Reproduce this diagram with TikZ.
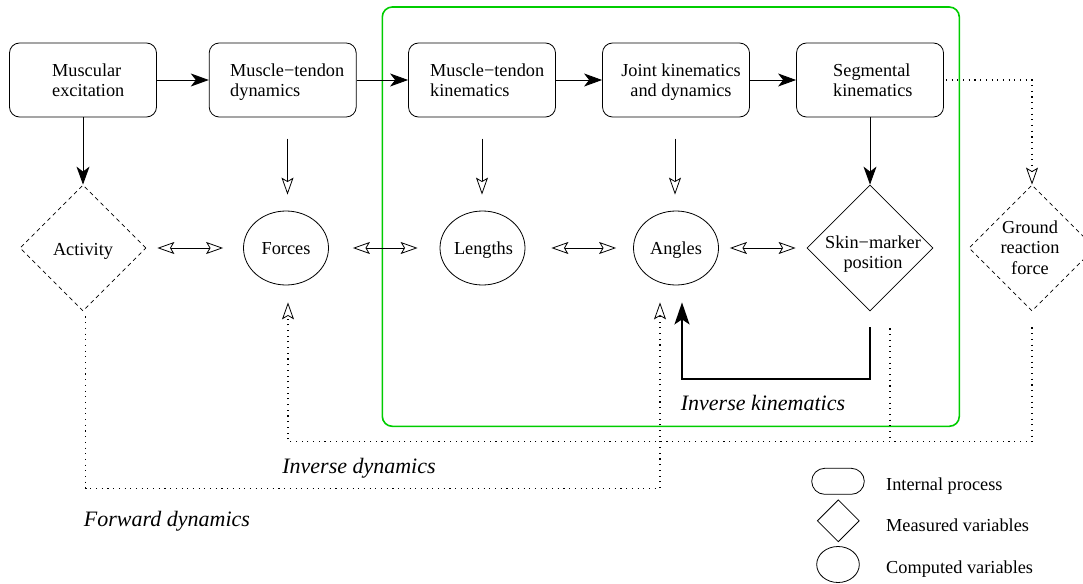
\documentclass[tikz,border=0pt]{standalone}
\usepackage{fontspec}
\setmainfont{Liberation Serif}
\usetikzlibrary{arrows.meta,shapes.geometric,calc}
\definecolor{boxgreen}{RGB}{0,205,0}
\begin{document}
\begin{tikzpicture}[x=1pt,y=-1pt,
  every node/.style={font=\fontsize{18.3}{20.3}\selectfont},
  proc/.style={draw,rounded corners=10pt,minimum width=147pt,minimum height=74pt,inner sep=0pt,line width=0.8pt},
  meas/.style={draw,diamond,minimum width=126pt,minimum height=126pt,inner sep=0pt,line width=0.8pt},
  measdash/.style={meas,dash pattern=on 4pt off 3.5pt},
  comp/.style={draw,ellipse,minimum width=85pt,minimum height=74pt,inner sep=0pt,line width=0.8pt},
  txt/.style={inner sep=0pt},
  lbl/.style={inner sep=0pt,font=\fontsize{22}{24}\selectfont\itshape},
  solidarr/.style={line width=0.8pt,-{Stealth[length=18pt,width=13pt,inset=5pt]}},
  openarr/.style={line width=0.8pt,-{Stealth[open,length=17pt,width=12pt,inset=3.5pt]}},
  dblarr/.style={line width=0.8pt,{Stealth[open,length=17pt,width=12pt,inset=3.5pt]}-{Stealth[open,length=17pt,width=12pt,inset=3.5pt]}},
  dots/.style={line width=1.1pt,dash pattern=on 1.1pt off 4.6pt},
  dotarr/.style={dots,-{Stealth[open,length=17pt,width=12pt,inset=3.5pt,line width=0.8pt]}},
]
\useasboundingbox (0,0) rectangle (1083,583);

% green frame
\draw[boxgreen,line width=1.6pt,rounded corners=10pt] (382.3,7) rectangle (959.3,426.3);

% process boxes
\node[proc] (b1) at (83,80) {};
\node[proc] (b2) at (282.7,80) {};
\node[proc] (b3) at (482,80) {};
\node[proc] (b4) at (676,80) {};
\node[proc] (b5) at (870,80) {};
\node[txt,align=left,anchor=west] (b1t) at (52,80) {Muscular\\excitation};
\node[txt,align=left,anchor=west] (b2t) at (230,82) {Muscle\textminus tendon\\dynamics};
\node[txt,align=left,anchor=west] (b3t) at (430,80) {Muscle\textminus tendon\\kinematics};
\node[txt,align=center] (b4t) at (681,82) {Joint kinematics\\and dynamics};
\node[txt,align=left,anchor=west] (b5t) at (833,80) {Segmental\\kinematics};

% variables
\node[measdash] (act) at (83,248) {};
\node[comp] (forces) at (286,248) {};
\node[comp] (lengths) at (482.5,248) {};
\node[comp] (angles) at (676,248) {};
\node[meas] (skin) at (870,248) {};
\node[measdash] (grf) at (1032,248) {};
\node[txt,anchor=base] (actt) at (83,255) {Activity};
\node[txt,anchor=base] (forcest) at (286,254.5) {Forces};
\node[txt,anchor=base] (lengthst) at (483.5,254.5) {Lengths};
\node[txt,anchor=base] (anglest) at (676,254.5) {Angles};
\node[txt,align=center] (skint) at (873,254) {Skin\textminus marker\\position};
\node[txt,align=center] (grft) at (1030,247.5) {Ground\\reaction\\force};

% process chain
\draw[solidarr] (b1.east) -- (b2.west);
\draw[solidarr] (b2.east) -- (b3.west);
\draw[solidarr] (b3.east) -- (b4.west);
\draw[solidarr] (b4.east) -- (b5.west);
\draw[solidarr] (b1.south) -- (act.north);
\draw[solidarr] (b5.south) -- (skin.north);

% open down arrows
\draw[openarr] ([xshift=1.5pt,yshift=72pt]forces.north) -- ([xshift=1.5pt,yshift=16pt]forces.north);
\draw[openarr] ([xshift=-0.5pt,yshift=72pt]lengths.north) -- ([xshift=-0.5pt,yshift=16pt]lengths.north);
\draw[openarr] ([xshift=-1pt,yshift=72pt]angles.north) -- ([xshift=-1pt,yshift=16pt]angles.north);

% double arrows
\draw[dblarr] ([xshift=11pt]act.east) -- ([xshift=-20pt]forces.west);
\draw[dblarr] ([xshift=24pt]forces.east) -- ([xshift=-22pt]lengths.west);
\draw[dblarr] ([xshift=26pt]lengths.east) -- ([xshift=-17pt]angles.west);
\draw[dblarr] ([xshift=11pt]angles.east) -- ([xshift=-11pt]skin.west);

% dotted to ground reaction force
\draw[dotarr] ([xshift=2pt]b5.east) -- (b5.east -| grf.north) -- (grf.north);

% inverse dynamics
\coordinate (idy) at (0,441.7);
\coordinate (fdy) at (0,488.3);
\draw[dotarr] ([yshift=-16pt]grf.south) -- (grf.south |- idy) -- ([xshift=2pt]forces.south |- idy) -- ([xshift=2pt,yshift=-17pt]forces.south);
\draw[dots] ([xshift=20pt,yshift=-17pt]skin.south) -- ([xshift=20pt]skin.south |- idy);

% forward dynamics
\draw[dotarr] ([xshift=2.5pt,yshift=-5pt]act.south) -- ([xshift=2.5pt]act.south |- fdy) -- ([xshift=-16pt]angles.south |- fdy) -- ([xshift=-16pt,yshift=-17pt]angles.south);

% inverse kinematics
\draw[line width=2pt,-{Stealth[length=22pt,width=15pt,inset=5pt]}] ([yshift=-16pt]skin.south) -- ++(0,52) -| ([xshift=6pt,yshift=-17pt]angles.south);

% labels
\node[lbl,anchor=base] (ik) at (763,410.7) {Inverse kinematics};
\node[lbl,anchor=base] (id) at (359,473.3) {Inverse dynamics};
\node[lbl,anchor=base] (fd) at (167,526) {Forward dynamics};

% legend
\node[draw,rounded corners=13pt,minimum width=52.6pt,minimum height=26pt,inner sep=0pt,line width=0.8pt] (lg1) at (838,481.3) {};
\node[draw,diamond,minimum width=42pt,minimum height=42pt,inner sep=0pt,line width=0.8pt] (lg2) at (838.3,520.8) {};
\node[draw,ellipse,minimum width=42.6pt,minimum height=36pt,inner sep=0pt,line width=0.8pt] (lg3) at (838,564.5) {};
\node[txt,anchor=base west] (lg1t) at (886,490.7) {Internal process};
\node[txt,anchor=base west] (lg2t) at (886,531) {Measured variables};
\node[txt,anchor=base west] (lg3t) at (886,573.3) {Computed variables};
\end{tikzpicture}
\end{document}
